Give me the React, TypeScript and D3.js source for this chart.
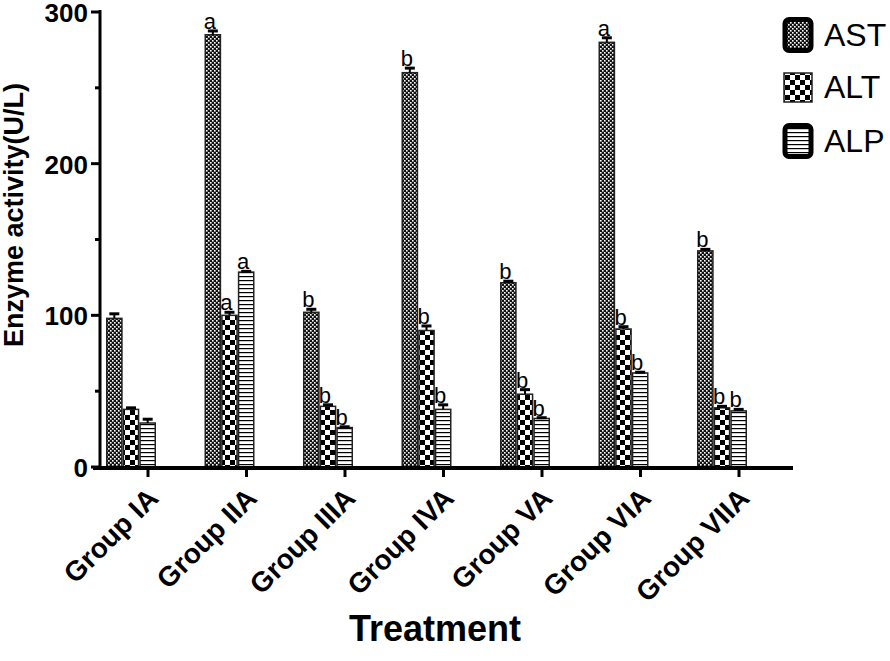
import React from "react";
import * as d3 from "d3";

const groups = ["Group IA", "Group IIA", "Group IIIA", "Group IVA", "Group VA", "Group VIA", "Group VIIA"];
const seriesNames = ["AST", "ALT", "ALP"];
const astValues = [98, 285, 102, 260, 121.5, 280, 142.5];
const astErrors = [3, 2.5, 2, 3, 1, 3, 1];
const altValues = [38, 100, 40, 90, 48, 91, 39];
const altErrors = [1, 2, 1, 3, 3, 1.5, 1];
const alpValues = [29, 128.5, 26, 38, 32, 62, 37];
const alpErrors = [2.5, 0.5, 0.5, 3, 0.5, 0.5, 1];
const astLetters = ["", "a", "b", "b", "b", "a", "b"];
const altLetters = ["", "a", "b", "b", "b", "b", "b"];
const alpLetters = ["", "a", "b", "b", "b", "b", "b"];
const yTicks = [0, 100, 200, 300];
const yMinorTicks = [50, 150, 250];

const FONT = "'Liberation Sans', Arial, Helvetica, sans-serif";

export default function App() {
  const width = 890;
  const height = 661;
  const y = d3.scaleLinear().domain([0, 300]).range([467, 12]);
  const x = d3
    .scaleBand<string>()
    .domain(groups)
    .range([106, 747])
    .paddingInner(0.4924)
    .paddingOuter(0);
  const xs = d3.scaleBand<string>().domain(seriesNames).range([0, x.bandwidth()]).padding(0);

  const series = [
    { name: "AST", values: astValues, errors: astErrors, letters: astLetters, fill: "url(#pAST)" },
    { name: "ALT", values: altValues, errors: altErrors, letters: altLetters, fill: "url(#pALT)" },
    { name: "ALP", values: alpValues, errors: alpErrors, letters: alpLetters, fill: "url(#pALP)" },
  ];

  const axisX = 100;
  const axisY = 468;

  return (
    <svg width={width} height={height} style={{ position: "absolute", left: 0, top: 0, background: "#fff" }}>
      <defs>
        <pattern id="pAST" patternUnits="userSpaceOnUse" width={4} height={4}>
          <rect width={4} height={4} fill="#111" />
          <rect x={0} y={0} width={1.6} height={1.6} fill="#fff" />
          <rect x={2} y={2} width={1.6} height={1.6} fill="#fff" />
        </pattern>
        <pattern id="pALT" patternUnits="userSpaceOnUse" width={10} height={10}>
          <rect width={10} height={10} fill="#fff" />
          <rect x={0} y={0} width={5} height={5} fill="#000" />
          <rect x={5} y={5} width={5} height={5} fill="#000" />
        </pattern>
        <pattern id="pALP" patternUnits="userSpaceOnUse" width={4} height={4}>
          <rect width={4} height={4} fill="#fff" />
          <rect x={0} y={0} width={4} height={1.2} fill="#000" />
        </pattern>
      </defs>

      {/* bars */}
      {series.map((s) =>
        groups.map((g, i) => {
          const bx = (x(g) as number) + (xs(s.name) as number);
          const bw = xs.bandwidth();
          const top = y(s.values[i]);
          const errTop = y(s.values[i] + s.errors[i]);
          const cx = bx + bw / 2;
          return (
            <g key={s.name + g}>
              <rect x={bx + 0.75} y={top} width={bw - 1.5} height={axisY - top} fill={s.fill} stroke="#222" strokeWidth={1.5} />
              <line x1={cx} x2={cx} y1={top} y2={errTop} stroke="#000" strokeWidth={2} />
              <line x1={cx - 5} x2={cx + 5} y1={errTop} y2={errTop} stroke="#000" strokeWidth={3} />
              {s.letters[i] && (
                <text x={cx - 3} y={errTop - 2} textAnchor="middle" fontFamily={FONT} fontSize={22} fill="#000">
                  {s.letters[i]}
                </text>
              )}
            </g>
          );
        })
      )}

      {/* y axis */}
      <line x1={axisX} x2={axisX} y1={y(300) - 2} y2={axisY + 2} stroke="#000" strokeWidth={3} />
      {yTicks.map((t) => (
        <g key={t}>
          <line x1={axisX - 9} x2={axisX} y1={y(t)} y2={y(t)} stroke="#000" strokeWidth={3} />
          <text x={88} y={y(t) + 10} textAnchor="end" fontFamily={FONT} fontWeight="bold" fontSize={26} fill="#000">
            {t}
          </text>
        </g>
      ))}
      {yMinorTicks.map((t) => (
        <line key={t} x1={axisX - 5} x2={axisX} y1={y(t)} y2={y(t)} stroke="#000" strokeWidth={3} />
      ))}

      {/* x axis */}
      <line x1={93} x2={793} y1={axisY} y2={axisY} stroke="#000" strokeWidth={4} />
      {groups.map((g) => {
        const tx = (x(g) as number) + 42;
        return (
          <g key={g}>
            <line x1={tx} x2={tx} y1={axisY} y2={axisY + 9} stroke="#000" strokeWidth={3} />
            <text
              transform={`translate(${tx + 12},${axisY + 32}) rotate(-45)`}
              textAnchor="end"
              fontFamily={FONT}
              fontWeight="bold"
              fontSize={28}
              fill="#000"
            >
              {g}
            </text>
          </g>
        );
      })}

      {/* axis titles */}
      <text x={435} y={641} textAnchor="middle" fontFamily={FONT} fontWeight="bold" fontSize={36} fill="#000">
        Treatment
      </text>
      <text
        transform={`translate(23,215) rotate(-90)`}
        textAnchor="middle"
        fontFamily={FONT}
        fontWeight="bold"
        fontSize={27}
        fill="#000"
      >
        Enzyme activity(U/L)
      </text>

      {/* legend */}
      {series.map((s, i) => {
        const ly = [17, 72, 123][i];
        const thick = s.name !== "ALT";
        return (
          <g key={s.name}>
            {thick ? (
              <rect x={785} y={ly + 2.5} width={26} height={31} rx={4} fill={s.fill} stroke="#000" strokeWidth={5} />
            ) : (
              <rect x={784} y={ly + 1} width={28} height={29} fill={s.fill} stroke="#222" strokeWidth={1.5} />
            )}
            <text x={824} y={[46, 98, 152][i]} fontFamily={FONT} fontSize={32} fill="#000">
              {s.name}
            </text>
          </g>
        );
      })}
    </svg>
  );
}
